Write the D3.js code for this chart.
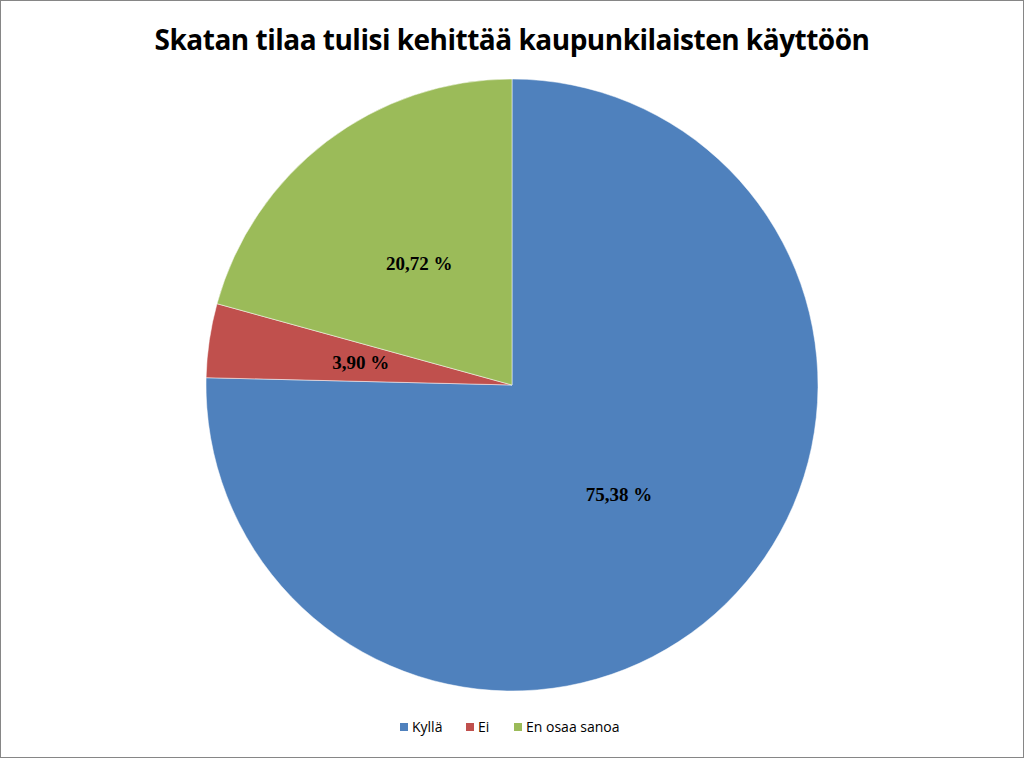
<!DOCTYPE html>
<html><head><meta charset="utf-8">
<script src="https://cdn.jsdelivr.net/npm/d3@7"></script>
<style>body{margin:0;background:#fff}</style></head>
<body><svg id="c" width="1024" height="758"></svg>
<script>
const categories = ["Kyllä", "Ei", "En osaa sanoa"];
const values = [75.38, 3.90, 20.72];
const labels = ["75,38 %", "3,90 %", "20,72 %"];
const colors = ["#4F81BD", "#C0504D", "#9BBB59"];

const svg = d3.select("#c");
svg.append("rect").attr("x",0.5).attr("y",0.5).attr("width",1023).attr("height",757)
  .attr("fill","#fff").attr("stroke","#868686");
svg.append("text").attr("x",512).attr("y",50).attr("text-anchor","middle")
  .attr("font-family","Open Sans, Liberation Sans, sans-serif").attr("font-weight","bold")
  .attr("font-size",28).attr("fill","#000").style("letter-spacing","-0.5px")
  .text("Skatan tilaa tulisi kehittää kaupunkilaisten käyttöön");

const R = 306, cx = 512, cy = 385;
const pie = d3.pie().sort(null).value(d=>d)(values);
const arc = d3.arc().innerRadius(0).outerRadius(R);
const labelArc = d3.arc().innerRadius(R*0.5).outerRadius(R*0.5);
const g = svg.append("g").attr("transform",`translate(${cx},${cy})`);
g.selectAll("path").data(pie).join("path").attr("d",arc)
  .attr("fill",(d,i)=>colors[i]).attr("stroke","#fff").attr("stroke-width",0.5);
g.selectAll("text").data(pie).join("text")
  .attr("transform",d=>`translate(${labelArc.centroid(d)})`)
  .attr("text-anchor","middle").attr("dy","0.35em")
  .attr("font-family","Liberation Serif, serif").attr("font-weight","bold").attr("font-size",19)
  .text((d,i)=>labels[i]);

const lx = [400, 466, 514];
const lg = svg.append("g");
categories.forEach((c,i)=>{
  lg.append("rect").attr("x",lx[i]).attr("y",723).attr("width",8).attr("height",8).attr("fill",colors[i]);
  lg.append("text").attr("x",lx[i]+12).attr("y",732).attr("font-family","Open Sans, sans-serif")
    .attr("font-size",14).attr("fill","#000").text(c);
});
</script></body></html>
